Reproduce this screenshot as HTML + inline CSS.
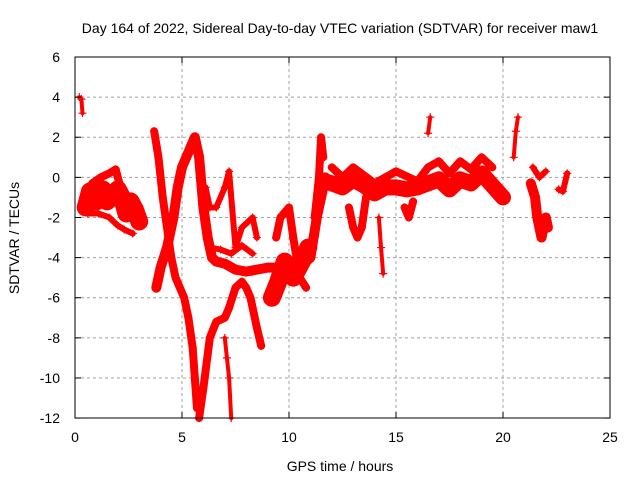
<!DOCTYPE html>
<html><head><meta charset="utf-8"><style>
body{margin:0;background:#fff}
text{font-family:"Liberation Sans",sans-serif;font-size:14px;fill:#000}
</style></head><body>
<svg id="chart" width="640" height="480">
<rect width="640" height="480" fill="#fff"/>
<text x="340" y="33" text-anchor="middle">Day 164 of 2022, Sidereal Day-to-day VTEC variation (SDTVAR) for receiver maw1</text>
<g id="grid"></g><g id="marks"></g><g id="axes"></g>
<text x="340" y="471" text-anchor="middle">GPS time / hours</text>
<text transform="translate(19,238) rotate(-90)" text-anchor="middle">SDTVAR / TECUs</text>
</svg>
<script>
const xTicks=[0,5,10,15,20,25];
const yTicks=[6,4,2,0,-2,-4,-6,-8,-10,-12];
const trackEarly=[[0.2,4],[0.3,3.9],[0.35,3.2]];
const trackMorning=[[0.5,-1.5],[0.7,-0.7],[1,-1.2],[1.3,-0.6],[1.5,-1.2],[1.8,-0.8],[2,-0.6],[2.2,-1],[2.4,-1.8],[2.6,-1.2],[2.8,-1.6],[3,-2.2]];
const trackMorningTop=[[0.8,-0.3],[1.2,0],[1.6,0.2],[1.9,0.4],[2.1,-0.4]];
const trackMorningLow=[[0.6,-1.8],[1.1,-1.8],[1.6,-2],[2,-2.4],[2.3,-2.6],[2.7,-2.8]];
const trackDrop=[[3.7,2.3],[3.9,1],[4.1,-1],[4.3,-2.5],[4.5,-4],[4.7,-5],[4.9,-5.5],[5.1,-6],[5.3,-7],[5.5,-8.5],[5.6,-10],[5.7,-11.5]];
const trackMainA=[[3.8,-5.5],[4,-4.5],[4.3,-3.5],[4.6,-2],[4.8,-0.5],[5,0.5],[5.2,1],[5.4,1.5],[5.6,2],[5.8,1],[6,-1.5],[6.2,-3],[6.4,-4],[6.6,-4.2],[7,-4.3],[7.5,-4.6],[8,-4.7],[8.5,-4.6],[9,-4.5],[9.5,-4.5],[10,-4.8],[10.5,-4.5],[11,-4],[11.3,-2],[11.5,-1],[11.7,0]];
const trackMainB=[[11.7,-0.2],[12,-0.3],[12.5,-0.5],[13,-0.1],[13.5,-0.4],[14,-0.8],[14.5,-0.5],[15,-0.5],[15.5,-0.6],[16,-0.5],[16.5,-0.3],[17,-0.1],[17.5,-0.6],[18,-0.1],[18.5,-0.3],[19,0.2],[19.5,-0.4],[20,-1]];
const trackUpperB=[[12,0.5],[12.5,0],[13,0.5],[14,-0.3],[15,0.3],[16,-0.2],[16.5,0.5],[17,0.8],[17.5,0.2],[18,0.8],[18.5,0.4],[19,1],[19.5,0.5]];
const trackLower=[[5.8,-12],[6,-10.5],[6.3,-8],[6.6,-7.2],[7,-7],[7.2,-6.5],[7.5,-5.5],[7.8,-5.2],[8,-5.5],[8.2,-6],[8.5,-7.5],[8.7,-8.4]];
const trackSpike7=[[7,-8],[7.1,-9],[7.2,-10],[7.3,-12]];
const trackMid=[[6.1,-0.5],[6.3,-1.5],[6.6,-1.5],[7,-0.5],[7.2,0.3],[7.5,-3.5],[7.8,-2.5],[8.3,-2],[8.5,-3]];
const trackUpperMid=[[6.3,-3.5],[6.8,-3.6],[7.3,-3.8],[7.8,-3.4],[8.3,-3.8]];
const trackBlob=[[9.2,-6],[9.5,-5.2],[9.8,-4.2],[10.2,-5],[10.6,-4.2],[10.9,-3.5]];
const trackRise=[[9.4,-3],[9.6,-2],[10,-1.5],[10.2,-3],[10.5,-5],[10.8,-5.5]];
const trackPeak=[[11.2,-2],[11.4,0],[11.5,2],[11.6,1]];
const trackDips=[[12.8,-1.5],[13,-2.5],[13.2,-3],[13.4,-2.5],[13.6,-1]];
const trackCol=[[14.2,-2],[14.3,-3.5],[14.4,-4.8]];
const trackF=[[15.4,-1.5],[15.6,-2],[15.8,-1.2]];
const trackG=[[16.5,2.2],[16.6,3]];
const trackH=[[20.5,1],[20.6,2.3],[20.7,3]];
const trackI=[[21.3,-0.3],[21.5,-1],[21.6,-2],[21.8,-3],[22,-2],[22.1,-2.5]];
const trackI2=[[21.4,0.5],[21.7,0],[22,0.3]];
const trackJ=[[22.6,-0.6],[22.8,-0.7],[23,0.2]];
const tracks=[trackEarly,trackMorning,trackMorningTop,trackMorningLow,trackDrop,trackMainA,trackMainB,trackUpperB,trackLower,trackSpike7,trackMid,trackUpperMid,trackBlob,trackRise,trackPeak,trackDips,trackCol,trackF,trackG,trackH,trackI,trackI2,trackJ];
const widths=[4,18,8,6,8,10,16,8,8,4,6,6,18,8,8,8,4,8,4,4,10,6,6];
const X=t=>75+t*21.4, Y=v=>57+(6-v)*20.06;
const ns="http://www.w3.org/2000/svg";
function mk(tag,p,at){const e=document.createElementNS(ns,tag);for(const k in at)e.setAttribute(k,at[k]);p.appendChild(e);return e;}
const g=document.getElementById('grid'),m=document.getElementById('marks'),a=document.getElementById('axes');
xTicks.forEach(t=>{
 if(t>0&&t<25){const l=mk('line',g,{x1:X(t),x2:X(t),y1:57,y2:418,stroke:'#a0a0a0','stroke-dasharray':'3,3'});
 
 }
 const tx=mk('text',a,{x:X(t),y:442,'text-anchor':'middle'});tx.textContent=t;
 
 
 mk('line',a,{x1:X(t),x2:X(t),y1:418,y2:412,stroke:'#000'});mk('line',a,{x1:X(t),x2:X(t),y1:57,y2:63,stroke:'#000'});
});
yTicks.forEach(v=>{
 if(v<6&&v>-12){const l=mk('line',g,{x1:75,x2:610,y1:Y(v),y2:Y(v),stroke:'#a0a0a0','stroke-dasharray':'3,3'});
 
 }
 const tx=mk('text',a,{x:60,y:Y(v)+5,'text-anchor':'end'});tx.textContent=v;
 
 
 mk('line',a,{x1:75,x2:81,y1:Y(v),y2:Y(v),stroke:'#000'});mk('line',a,{x1:604,x2:610,y1:Y(v),y2:Y(v),stroke:'#000'});
});
const fr=mk('rect',a,{x:75,y:57,width:535,height:361,fill:'none',stroke:'#000'});


tracks.forEach((tr,i)=>{
 const pl=mk('polyline',m,{points:tr.map(p=>X(p[0])+','+Y(p[1])).join(' '),fill:'none',stroke:'#f00','stroke-width':widths[i],'stroke-linejoin':'round','stroke-linecap':'round'});
 
 
 tr.forEach(p=>{const x=X(p[0]),y=Y(p[1]);
  const pt=mk('path',m,{d:`M${x-4},${y}H${x+4}M${x},${y-4}V${y+4}`,stroke:'#f00','stroke-width':1.2});
  
  });
});
</script>
</body></html>
